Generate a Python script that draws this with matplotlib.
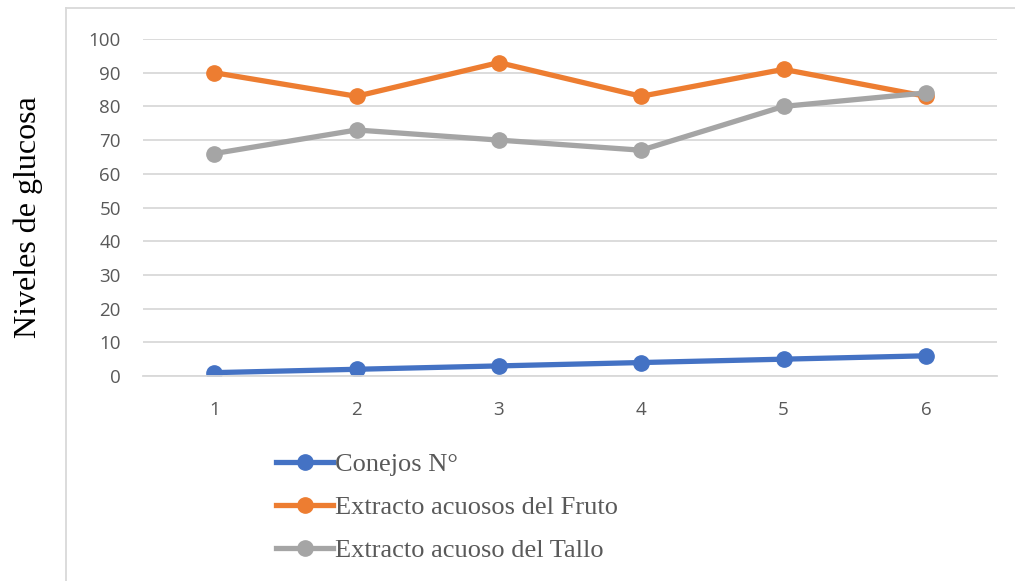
"""Line chart of glucose levels per rabbit for the aqueous extracts"""

import matplotlib

matplotlib.use("Agg")
import matplotlib.pyplot as plt
from matplotlib.lines import Line2D

# Chart data
conejos: list[int] = [1, 2, 3, 4, 5, 6]
conejos_n: list[int] = [1, 2, 3, 4, 5, 6]
extracto_fruto: list[int] = [90, 83, 93, 83, 91, 83]
extracto_tallo: list[int] = [66, 73, 70, 67, 80, 84]
series_labels: list[str] = ["Conejos N°", "Extracto acuosos del Fruto", "Extracto acuoso del Tallo"]
y_ticks: list[int] = list(range(0, 101, 10))

colors = ["#4472C4", "#ED7D31", "#A5A5A5"]
grid_color = "#D9D9D9"
text_color = "#595959"

figure = plt.figure(figsize=(10.15, 5.81), dpi=100)
axes = figure.add_axes((0.1409, 0.3528, 0.8414, 0.5801))

# Drawing the series
for values, label, color in zip([conejos_n, extracto_fruto, extracto_tallo], series_labels, colors):
    axes.plot(conejos, values, color=color, linewidth=3.8, marker="o",
              markersize=11, label=label, solid_capstyle="round")

# Axes look like an Excel chart
axes.set_xlim(0.5, 6.5)
axes.set_ylim(0, 100)
axes.set_yticks(y_ticks)
axes.set_xticks(conejos)
axes.grid(axis="y", color=grid_color, linewidth=1.3)
axes.set_axisbelow(True)
for side in ["top", "right", "left"]:
    axes.spines[side].set_visible(False)
axes.spines["bottom"].set_color(grid_color)
axes.spines["bottom"].set_linewidth(1.3)
axes.tick_params(axis="both", length=0, labelsize=13.5, labelcolor=text_color)
axes.tick_params(axis="y", pad=16)
axes.tick_params(axis="x", pad=18)
for tick_label in axes.get_xticklabels() + axes.get_yticklabels():
    tick_label.set_fontfamily("Open Sans")

figure.text(0.028, 0.627, "Niveles de glucosa", rotation=90, ha="center", va="center",
            fontsize=23, family="Liberation Serif", color="black")

# Legend below the chart
handles = [Line2D([0], [0], color=c, linewidth=3.8, marker="o", markersize=11) for c in colors]
figure.legend(handles, series_labels, loc="upper left", bbox_to_anchor=(0.262, 0.239),
              frameon=False, handlelength=2.16, handletextpad=0.05, labelspacing=0.74,
              prop={"family": "Liberation Serif", "size": 19}, labelcolor=text_color,
              borderaxespad=0)

# Outer frame of the chart area
figure.add_artist(Line2D([0.065, 0.065], [0.0, 0.986], color=grid_color, linewidth=1.3))
figure.add_artist(Line2D([0.065, 1.0], [0.986, 0.986], color=grid_color, linewidth=1.3))

figure.savefig("out.png", dpi=100)
